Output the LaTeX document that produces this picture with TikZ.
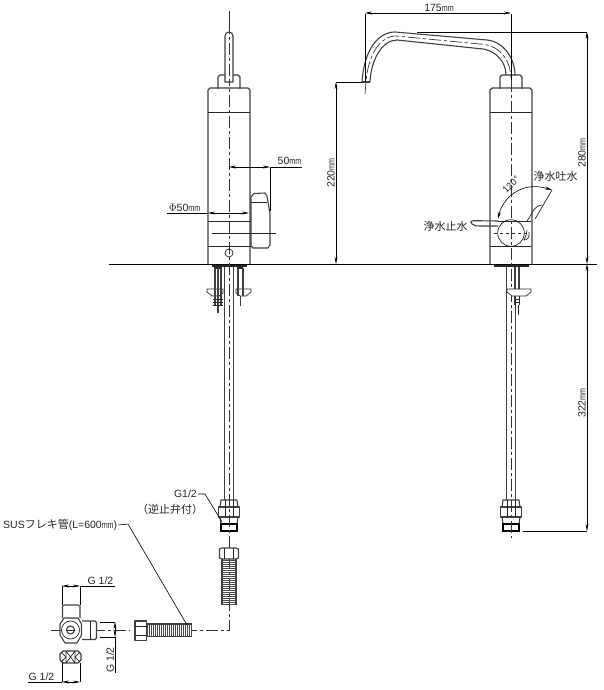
\documentclass[tikz,border=0pt]{standalone}
\usepackage{fontspec}
\usepackage{graphicx}
\setmainfont{Liberation Sans}
\newfontfamily\cjk{Noto Sans CJK JP}
\usetikzlibrary{arrows.meta}
\newcommand{\mmunit}{\scalebox{.68}[.9]{mm}}
\tikzset{
    outline/.style={draw=black!75,line width=1.1pt,line join=round},
    thinline/.style={draw=black!85,line width=.7pt},
    axis line/.style={draw=black!80,line width=.7pt,dash pattern=on 12pt off 3pt on 3pt off 3pt},
    dim line/.style={draw=black,line width=.6pt,{Stealth[length=7pt,width=3pt]}-{Stealth[length=7pt,width=3pt]}},
    ext line/.style={draw=black,line width=.6pt},
    label text/.style={inner sep=0pt,font=\fontsize{10.5}{12}\selectfont,text=black!85},
    cjk text/.style={inner sep=0pt,font=\cjk\fontsize{11}{13}\selectfont,text=black!85}
}
\begin{document}
\begin{tikzpicture}[x=1pt,y=-1pt]
    \useasboundingbox (0,0) rectangle (604,690);
    % floor
    \draw[black,line width=.8pt] (109,264) -- (597,264);

    % body, flange, tube of both views
    \foreach \ax in {229,511} {
        \draw[outline,fill=white] (\ax-11,89) -- (\ax-11,77) -- ++(2,-2) -- (\ax+9,75) -- ++(2,2) -- (\ax+11,89);
        \draw[outline] (\ax-21,264) -- (\ax-21,90) -- ++(2,-2) -- (\ax+19,88) -- ++(2,2) -- (\ax+21,264);
        \draw[thinline] (\ax-21,112) -- (\ax+21,112);
        \draw[thinline,line width=1.4pt] (\ax-17,266) -- (\ax+18,266);
        \draw[outline] (\ax-4.5,267) -- (\ax-4.5,500);
        \draw[outline] (\ax+4.5,267) -- (\ax+4.5,500);
        % fitting at tube end
        \draw[outline,fill=white] (\ax-9,507) -- (\ax-8,500) -- (\ax+8,500) -- (\ax+9,507);
        \draw[outline,fill=white] (\ax-10.5,507) rectangle (\ax+10.5,517);
        \draw[thinline] (\ax-4,500) -- (\ax-4,517) (\ax+4,500) -- (\ax+4,517);
        \draw[outline] (\ax-9,517) -- (\ax-8,524) (\ax+9,517) -- (\ax+8,524);
        \draw[draw=black,line width=1.3pt,fill=white] (\ax-8,524) rectangle (\ax+8,531);
    }
    \draw[axis line] (229,11) -- (229,630) -- (192,630);
    \draw[axis line] (511,80) -- (511,538);

    % left view
    \draw[outline,fill=white] (225,82) -- (225,36) arc[start angle=180,end angle=360,radius=4] -- (233,82) -- cycle;
    \draw[axis line] (229,22) -- (229,82);
    \draw[outline,fill=white] (251,246) -- (251,197) -- ++(3,-3.5) -- (265,193) -- ++(2,3) -- (270,214) -- (270,245) -- ++(-2,3) -- (253,248) -- cycle;
    \draw[thinline] (251,202) -- (267,202);
    \draw[thinline] (208,221) -- (251,221) (212,233) -- (276,233) (208,246) -- (251,246);
    \draw[thinline] (229,253) circle[radius=4];
    \draw[thinline,line width=1.4pt] (214,268) -- (222,268) (237,268) -- (243,268);
    % bolts and brackets
    \draw[thinline,fill=white] (207,289) -- (223,289) -- (223,293) -- (219,296) -- (212,296) -- (207,292) -- cycle;
    \draw[thinline,fill=white] (236,289) -- (251,289) -- (251,292) -- (246,296) -- (240,296) -- (236,293) -- cycle;
    \draw[outline] (215,268) -- (215,306) (221,268) -- (221,306) (218,268) -- (218,313);
    \draw[outline] (238,268) -- (238,296) (243,268) -- (243,296) (240.5,296) -- (240.5,306);
    \draw[thinline] (213,299) -- (223,299) (213,302) -- (223,302) (213,305) -- (223,305);

    % right view, spout
    \draw[outline] (362,82) .. controls (364,50) and (378,32) .. (395,32) -- (487,40) .. controls (505,42) and (515,60) .. (515,75);
    \draw[outline] (370,82) .. controls (371,60) and (382,40) .. (397,40) -- (483,49) .. controls (496,51) and (506,62) .. (506,75);
    \draw[axis line] (365,94) -- (366,82) .. controls (368,55) and (380,36) .. (396,36) -- (485,44.5) .. controls (500,47) and (511,60) .. (511,80);
    \draw[outline] (361.5,82) -- (370,82);
    % right view, handle
    \draw[thinline] (511,233) circle[radius=13.3];
    \draw[thinline,dashed] (494,233) -- (528,233);
    \draw[outline] (498,221) -- (474,220.7) .. controls (470,220.7) and (470,223) .. (472,224) .. controls (474,226) and (477,226) .. (480,226) -- (498,226);
    \draw[thinline] (498,221) -- (531,221) (490,246.7) -- (531,246.7);
    \draw[thinline] (527,221) .. controls (532,215) and (533,206) .. (542,205);
    \draw[thinline] (535,219) -- (552,190);
    \draw[thinline] (529,232) .. controls (530,238) and (527,240) .. (524,240) .. controls (526,236) and (527,233) .. (527,230);
    \draw[thinline,line width=1.4pt] (494,266) -- (528,266);
    \draw[outline] (515,267) -- (515,305) (519,267) -- (519,289);
    \draw[thinline,fill=white] (507,289) -- (531,289) -- (531,292) -- (526,296) -- (512,296) -- (507,292) -- cycle;
    \draw[thinline] (515,296) -- (515,305) (519,296) -- (519,305) (515,299) -- (519,299) (515,302) -- (519,302);
    \draw[thinline] (518,305) -- (518,315);
    \draw[dim line] (498,219) .. controls (502,200) and (520,180) .. (552,190);

    % hose
    \draw[outline,fill=white] (219.5,549) -- (222,548) -- (236,548) -- (238.5,549) -- (238.5,558) -- (236,559) -- (222,559) -- (219.5,558) -- cycle;
    \draw[thinline] (224.5,548) -- (224.5,559) (233.5,548) -- (233.5,559);
    \foreach \yy in {560,562,...,605} {
        \draw[draw=black!70,line width=.9pt] (222,\yy) -- (236,\yy);
    }
    \draw[outline] (222,559) -- (222,605) (236,559) -- (236,605);
    \foreach \xx in {147,149,...,192} {
        \draw[draw=black!70,line width=.9pt] (\xx,624) -- (\xx,636.5);
    }
    \draw[outline] (147,624) -- (192,624) (147,636.5) -- (192,636.5);
    \draw[outline,fill=white] (135,621) rectangle (146.5,640.5);
    \draw[thinline] (135,626) -- (146.5,626) (135,635) -- (146.5,635);

    % stop valve
    \draw[axis line] (51,630) -- (130,630);
    \draw[outline,fill=white] (62.5,618) -- (62.5,606) -- ++(2,-1) -- (78,605) -- ++(2,1) -- (80,618);
    \draw[outline,fill=white] (82,621) -- (95,621) -- ++(1.5,1.5) -- (96.5,638) -- ++(-1.5,1.5) -- (82,639.5);
    \draw[thinline] (90,621) -- (90,639.5);
    \draw[outline,fill=white] (64,618) -- (78,618) -- (81.5,624) -- (81.5,635) -- (77,643) -- (65,643) -- (60,635) -- (60,624) -- cycle;
    \draw[thinline] (70.5,630) circle[radius=9];
    \draw[outline] (70.5,630) circle[radius=4];
    \draw[thinline] (66.5,630) -- (74.5,630);
    \draw[outline,fill=white] (63,651) -- (78,651) -- ++(3,3) -- (81,660) -- ++(-3,3) -- (63,663) -- ++(-3,-3) -- (60,654) -- cycle;
    % crossed nut faces
    \draw[thinline] (61,652) -- (66,657) -- (61,662) (80,652) -- (75,657) -- (80,662);
    \draw[thinline] (66,651) -- (66,663) (75,651) -- (75,663) (66,651) -- (75,663) (75,651) -- (66,663);

    % dimensions
    \draw[ext line] (365,14) -- (365,82);
    \draw[ext line] (511,14) -- (511,80);
    \draw[dim line] (365,13) -- (511,13);
    \node[label text] (spoutlen) at (439,8) {175\mmunit};

    \draw[ext line] (336,82) -- (362,82);
    \draw[dim line] (336,82) -- (336,264);
    \node[label text,rotate=90] (rise) at (331,173) {220\mmunit};

    \draw[ext line] (417,32) -- (587,32);
    \draw[dim line] (587,32) -- (587,264);
    \node[label text,rotate=90] (total) at (582,153) {280\mmunit};
    \draw[ext line] (523,531) -- (587,531);
    \draw[dim line] (587,264) -- (587,531);
    \node[label text,rotate=90] (below) at (582,403) {322\mmunit};

    \draw[ext line] (270,167) -- (270,211);
    \draw[ext line,-] (270,167) -- (302,167);
    \draw[dim line] (229,167) -- (270,167);
    \node[label text] (reach) at (289.5,161) {50\mmunit};

    \draw[ext line] (167,213) -- (208,213);
    \draw[dim line] (208,213) -- (249,213);
    \node[label text] (dia) at (184.5,208) {$\Phi$50\mmunit};

    \node[label text,anchor=east] (fit) at (197,494) {G1/2};
    \node[cjk text] (check) at (170,509) {（逆止弁付）};
    \draw[ext line] (fit.east) ++(1,0) -- (205,494) -- (222,522);

    \node[label text,anchor=west] (flex) at (3,525) {SUS{\cjk\fontsize{11}{13}\selectfont フレキ管}(L=600\mmunit)};
    \draw[ext line] (flex.east) ++(1,0) -- (128,524) -- (187,625);

    \draw[ext line] (62,586) -- (62,605) (80,586) -- (80,605);
    \draw[dim line] (62,586) -- (80,586);
    \draw[ext line] (80,586) -- (115,586);
    \node[label text] (gtop) at (100.5,581) {G 1/2};

    \draw[ext line] (62,663) -- (62,682) (80,663) -- (80,682);
    \draw[dim line] (62,682) -- (80,682);
    \draw[ext line] (28,682) -- (62,682);
    \node[label text] (gbot) at (41.5,677) {G 1/2};

    \draw[ext line] (100,622) -- (115,622) (100,637) -- (115,637);
    \draw[dim line] (115,622) -- (115,637);
    \draw[ext line] (115,637) -- (115,673);
    \node[label text,rotate=90] (gside) at (110,660) {G 1/2};

    \node[label text,font=\fontsize{9.5}{11}\selectfont,rotate=45] (angle) at (511,184.5) {120°};
    \node[cjk text] (open) at (555.5,176) {浄水吐水};
    \node[cjk text] (close) at (445.5,226) {浄水止水};
\end{tikzpicture}
\end{document}
